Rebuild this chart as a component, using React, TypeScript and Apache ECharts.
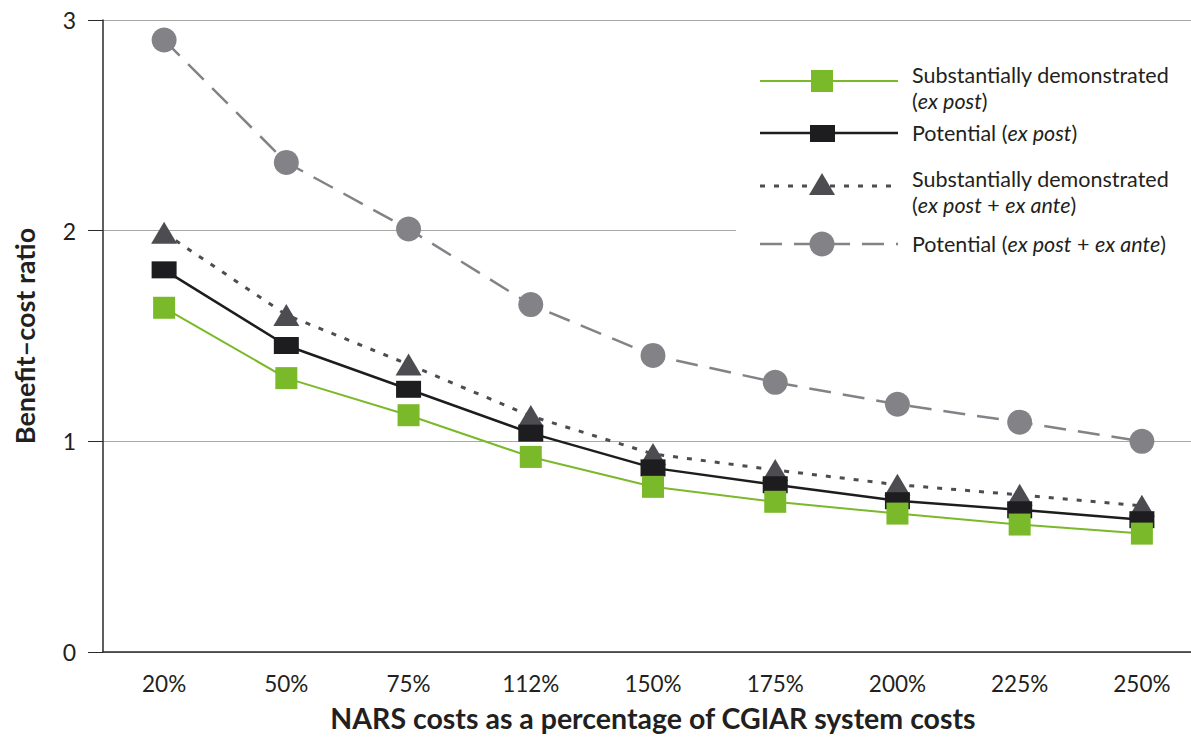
import React, { useEffect, useRef } from "react";
import * as echarts from "echarts";

const categories = ["20%", "50%", "75%", "112%", "150%", "175%", "200%", "225%", "250%"];
const subDemExPost = [1.634, 1.3, 1.124, 0.926, 0.784, 0.713, 0.657, 0.605, 0.562];
const potExPost = [1.814, 1.455, 1.247, 1.039, 0.874, 0.794, 0.718, 0.675, 0.628];
const subDemExAnte = [1.99, 1.6, 1.365, 1.12, 0.94, 0.864, 0.794, 0.746, 0.694];
const potExAnte = [2.905, 2.324, 2.008, 1.649, 1.408, 1.28, 1.176, 1.091, 1.0];
const yTicks = [0, 1, 2, 3];

const FONT = "Lato, 'Open Sans', sans-serif";
const TXT = "#231f20";
const GREEN = "#7ab929";
const BLACK = "#1d1d1f";
const DARK = "#4d4c50";
const GREY = "#838287";
const LFS = 21.5;

export default function App() {
  const ref = useRef<HTMLDivElement>(null);
  useEffect(() => {
    document.body.style.margin = "0";
    document.body.style.overflow = "hidden";
    const chart = echarts.init(ref.current!, null, { renderer: "svg", width: 1203, height: 737 });
    const rich = {
      n: { fontFamily: FONT, fontSize: LFS, color: TXT },
      i: { fontFamily: FONT, fontSize: LFS, color: TXT, fontStyle: "italic" },
    };
    const txt = (y: number, text: string) => ({
      type: "text",
      x: 912,
      y,
      z: 102,
      style: { text, rich, align: "left", verticalAlign: "middle", fontFamily: FONT, fontSize: LFS, fill: TXT },
    });
    const legendRow = (y: number, lines: [number, string][], line: any, symbol: any) => [
      { type: "line", shape: { x1: 760, y1: y, x2: 898, y2: y }, style: line, z: 101 },
      { ...symbol, z: 102 },
      ...lines.map(([ly, t]) => txt(ly, t)),
    ];
    chart.setOption({
      animation: false,
      grid: { left: 103, right: 0, top: 20, bottom: 71, containLabel: false },
      xAxis: {
        type: "category",
        data: categories,
        boundaryGap: true,
        name: "NARS costs as a percentage of CGIAR system costs",
        nameLocation: "middle",
        nameGap: 51,
        nameTextStyle: { fontFamily: FONT, fontSize: 28.5, fontWeight: "bold", color: TXT },
        axisLine: { lineStyle: { color: "#2a2a2a", width: 1.5 } },
        axisTick: { length: 14, lineStyle: { color: "#2a2a2a", width: 1 } },
        axisLabel: { fontFamily: FONT, fontSize: 22.5, color: TXT, margin: 20 },
        splitLine: { show: false },
      },
      yAxis: {
        type: "value",
        min: yTicks[0],
        max: yTicks[yTicks.length - 1],
        interval: 1,
        name: "Benefit–cost ratio",
        nameLocation: "middle",
        nameGap: 65,
        nameTextStyle: { fontFamily: FONT, fontSize: 27, fontWeight: "bold", color: TXT },
        axisLine: { show: true, lineStyle: { color: "#2a2a2a", width: 1.5 } },
        axisTick: { show: true, length: 15, lineStyle: { color: "#2a2a2a", width: 1 } },
        axisLabel: { fontFamily: FONT, fontSize: 23, color: TXT, margin: 27 },
        splitLine: { show: true, lineStyle: { color: "#a8a8a8", width: 1 } },
      },
      series: [
        {
          name: "Potential (ex post + ex ante)",
          type: "line",
          data: potExAnte,
          symbol: "circle",
          symbolSize: 25,
          itemStyle: { color: GREY },
          lineStyle: { color: GREY, width: 2.5, type: [22, 12] },
          z: 2,
        },
        {
          name: "Substantially demonstrated (ex post + ex ante)",
          type: "line",
          data: subDemExAnte,
          symbol: "triangle",
          symbolSize: [26, 22],
          itemStyle: { color: DARK },
          lineStyle: { color: DARK, width: 3, type: [5, 9] },
          z: 3,
        },
        {
          name: "Potential (ex post)",
          type: "line",
          data: potExPost,
          symbol: "rect",
          symbolSize: [25, 17],
          itemStyle: { color: BLACK },
          lineStyle: { color: BLACK, width: 2.5 },
          z: 4,
        },
        {
          name: "Substantially demonstrated (ex post)",
          type: "line",
          data: subDemExPost,
          symbol: "rect",
          symbolSize: 22,
          itemStyle: { color: GREEN },
          lineStyle: { color: GREEN, width: 2 },
          z: 5,
        },
      ],
      graphic: [
        { type: "rect", shape: { x: 736, y: 50, width: 470, height: 220 }, style: { fill: "#ffffff" }, z: 100 },
        ...legendRow(81, [[75, "{n|Substantially demonstrated}"], [101, "{n|(}{i|ex post}{n|)}"]], { stroke: GREEN, lineWidth: 2 }, {
          type: "rect",
          shape: { x: 811, y: 70, width: 22, height: 22 },
          style: { fill: GREEN },
        }),
        ...legendRow(133, [[133, "{n|Potential (}{i|ex post}{n|)}"]], { stroke: BLACK, lineWidth: 2.5 }, {
          type: "rect",
          shape: { x: 810, y: 125, width: 25, height: 17 },
          style: { fill: BLACK },
        }),
        ...legendRow(186, [[179, "{n|Substantially demonstrated}"], [205, "{n|(}{i|ex post}{n| + }{i|ex ante}{n|)}"]], { stroke: DARK, lineWidth: 3, lineDash: [5, 9] }, {
          type: "polygon",
          shape: { points: [[822, 173], [835, 195], [809, 195]] },
          style: { fill: DARK },
        }),
        ...legendRow(244, [[244, "{n|Potential (}{i|ex post}{n| + }{i|ex ante}{n|)}"]], { stroke: GREY, lineWidth: 2.5, lineDash: [22, 12] }, {
          type: "circle",
          shape: { cx: 822, cy: 244, r: 12.5 },
          style: { fill: GREY },
        }),
      ],
    });
    return () => chart.dispose();
  }, []);
  return (
    <div style={{ width: 1191, height: 737, overflow: "hidden", position: "relative" }}>
      <div ref={ref} style={{ position: "absolute", left: 0, top: 0, width: 1203, height: 737 }} />
    </div>
  );
}
